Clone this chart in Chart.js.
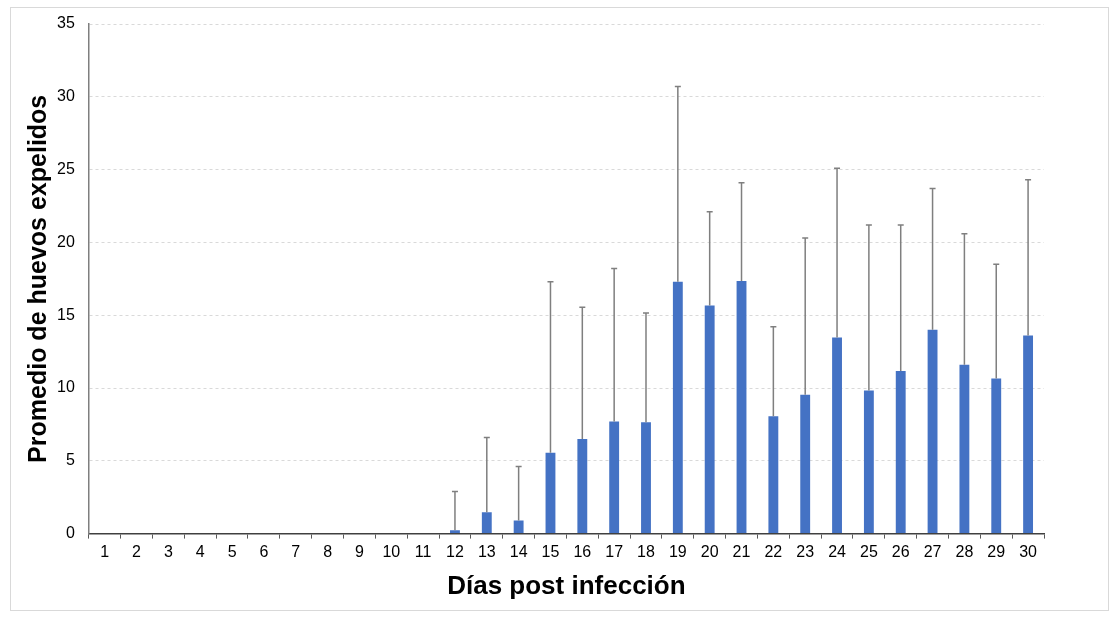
<!DOCTYPE html>
<html>
<head>
<meta charset="utf-8">
<script src="https://cdn.jsdelivr.net/npm/chart.js@4"></script>
<style>
  html, body { margin: 0; padding: 0; background: #fff; }
  #frame {
    position: absolute; left: 10px; top: 7px;
    width: 1099px; height: 604px;
    border: 1px solid #d9d9d9; box-sizing: border-box;
  }
  #chart { display: block; }
</style>
</head>
<body>
<div id="frame"><canvas id="chart"></canvas></div>
<script>
// datos
const dias = ['1','2','3','4','5','6','7','8','9','10','11','12','13','14','15',
              '16','17','18','19','20','21','22','23','24','25','26','27','28','29','30']
const promedio = [0, 0, 0, 0, 0, 0, 0, 0, 0, 0, 0, 0.23, 1.46, 0.9, 5.55,
                  6.5, 7.7, 7.64, 17.3, 15.66, 17.35, 8.06, 9.54, 13.47, 9.82,
                  11.16, 14.0, 11.6, 10.66, 13.6]
const desviacion = [0, 0, 0, 0, 0, 0, 0, 0, 0, 0, 0, 2.67, 5.14, 3.7, 11.75,
                    9.05, 10.5, 7.51, 13.4, 6.44, 6.75, 6.14, 10.76, 11.63, 11.38,
                    10.04, 9.7, 9.0, 7.84, 10.7]
const yTicks = [0, 5, 10, 15, 20, 25, 30, 35]

Chart.defaults.font.family = '"Liberation Sans", Arial, sans-serif'
Chart.defaults.color = '#000'

// barras de error (solo hacia arriba)
const errorBars = {
    id: 'errorBars',
    afterDatasetsDraw(chart) {
        const { ctx, scales: { y } } = chart
        const meta = chart.getDatasetMeta(0)
        ctx.save()
        ctx.strokeStyle = '#7f7f7f'
        ctx.lineWidth = 1.5
        meta.data.forEach((bar, i) => {
            const sd = desviacion[i]
            if (!sd) return
            const yBase = y.getPixelForValue(promedio[i])
            const yTop = y.getPixelForValue(promedio[i] + sd)
            ctx.beginPath()
            ctx.moveTo(bar.x, yBase)
            ctx.lineTo(bar.x, yTop)
            ctx.moveTo(bar.x - 3, yTop)
            ctx.lineTo(bar.x + 3, yTop)
            ctx.stroke()
        })
        ctx.restore()
    }
}

new Chart(document.getElementById('chart'), {
    type: 'bar',
    data: {
        labels: dias,
        datasets: [{
            data: promedio,
            backgroundColor: '#4472c4',
            barPercentage: 0.62,
            categoryPercentage: 0.5,
        }]
    },
    options: {
        responsive: true,
        maintainAspectRatio: false,
        animation: false,
        layout: { padding: { left: 8, right: 64, top: 16, bottom: 8 } },
        plugins: { legend: { display: false }, tooltip: { enabled: false } },
        scales: {
            x: {
                grid: { drawOnChartArea: false, color: '#595959', tickLength: 5, offset: true },
                border: { color: '#404040', width: 1.5 },
                ticks: { font: { size: 16 }, padding: 4, maxRotation: 0, autoSkip: false },
                title: {
                    display: true, text: 'Días post infección',
                    font: { size: 26, weight: 'bold' }, padding: { top: 5, bottom: 0 }
                }
            },
            y: {
                min: 0, max: 35,
                afterBuildTicks: axis => { axis.ticks = yTicks.map(v => ({ value: v })) },
                grid: { color: '#d9d9d9', tickColor: 'transparent', tickLength: 10, lineWidth: 1 },
                border: { color: '#7f7f7f', width: 1.5, dash: [3, 3] },
                ticks: { font: { size: 16 }, padding: 4 },
                title: {
                    display: true, text: 'Promedio de huevos expelidos',
                    font: { size: 25, weight: 'bold' }, padding: { top: 5, bottom: -1 }
                }
            }
        }
    },
    plugins: [errorBars]
})
</script>
</body>
</html>
